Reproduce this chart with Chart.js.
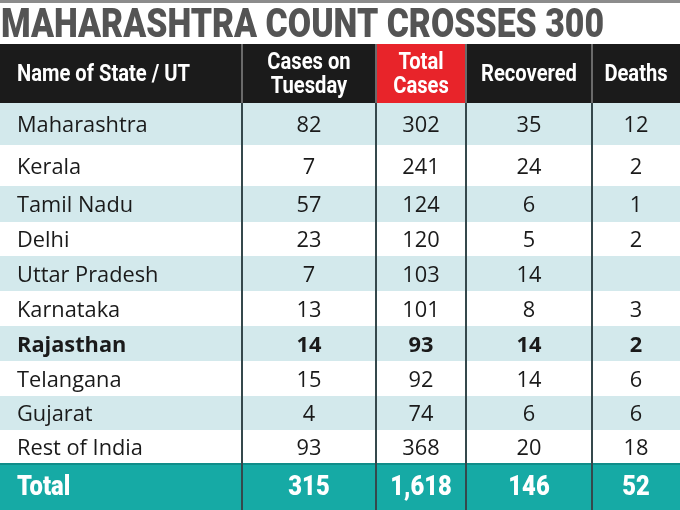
<!DOCTYPE html>
<html>
<head>
<meta charset="utf-8">
<script src="https://cdn.jsdelivr.net/npm/chart.js@4"></script>
<style>
  body { margin: 0; background: #fff; }
  #wrap { width: 680px; height: 510px; }
</style>
</head>
<body>
<div id="wrap"><canvas id="table"></canvas></div>
<script>
// table data
var title = 'MAHARASHTRA COUNT CROSSES 300';
var headers = [['Name of State / UT'], ['Cases on', 'Tuesday'], ['Total', 'Cases'], ['Recovered'], ['Deaths']];
var states = ['Maharashtra', 'Kerala', 'Tamil Nadu', 'Delhi', 'Uttar Pradesh', 'Karnataka',
  'Rajasthan', 'Telangana', 'Gujarat', 'Rest of India'];
var casesTuesday = [82, 7, 57, 23, 7, 13, 14, 15, 4, 93];
var totalCases = [302, 241, 124, 120, 103, 101, 93, 92, 74, 368];
var recovered = [35, 24, 6, 5, 14, 8, 14, 14, 6, 20];
var deaths = [12, 2, 1, 2, null, 3, 2, 6, 6, 18];
var totalRow = ['Total', '315', '1,618', '146', '52'];
var boldState = 'Rajasthan';

// layout (in scale units = pixels of the 680x510 picture)
var colEdges = [0, 242, 376, 466, 592, 680];
var headTop = 44;
var rowEdges = [103, 145, 186, 222, 256, 291, 326, 361, 396, 430, 464, 510];

var shade = '#d3e9ec';
var teal = '#16aaa5';

// draw text squeezed horizontally
function squeezed(ctx, text, x, y, sx, align) {
  ctx.save();
  ctx.translate(x, y);
  ctx.scale(sx, 1);
  ctx.textAlign = align;
  ctx.fillText(text, 0, 0);
  ctx.restore();
}

var tablePlugin = {
  id: 'tableCells',
  beforeDatasetsDraw: function(chart) {
    var ctx = chart.ctx;
    var xs = chart.scales.x, ys = chart.scales.y;
    var X = function(v) { return xs.getPixelForValue(v); };
    var Y = function(v) { return ys.getPixelForValue(v); };
    var left = X(colEdges[0]), right = X(colEdges[colEdges.length - 1]);

    // top strip + title
    ctx.fillStyle = '#8c8c8c';
    ctx.fillRect(left, Y(0), right - left, 3);
    ctx.fillStyle = '#545454';
    ctx.font = '900 41px Roboto';
    ctx.textBaseline = 'alphabetic';
    var tw = ctx.measureText(title).width;
    squeezed(ctx, title, X(1), Y(37), 603 / tw, 'left');

    // header
    ctx.fillStyle = '#1b1b1b';
    ctx.fillRect(left, Y(headTop), right - left, Y(rowEdges[0]) - Y(headTop));
    ctx.fillStyle = '#e8242a';
    ctx.fillRect(X(colEdges[2]), Y(headTop), X(colEdges[3]) - X(colEdges[2]), Y(rowEdges[0]) - Y(headTop));

    // body rows
    var n = states.length;
    for (var i = 0; i < n; i++) {
      ctx.fillStyle = i % 2 === 0 ? shade : '#ffffff';
      ctx.fillRect(left, Y(rowEdges[i]), right - left, Y(rowEdges[i + 1]) - Y(rowEdges[i]));
    }
    ctx.fillStyle = teal;
    ctx.fillRect(left, Y(rowEdges[n]), right - left, Y(rowEdges[n + 1]) - Y(rowEdges[n]));
    ctx.fillStyle = '#0f8d89';
    ctx.fillRect(left, Y(rowEdges[n]) - 1, right - left, 2);

    // vertical dividers
    for (var c = 1; c < colEdges.length - 1; c++) {
      ctx.fillStyle = '#6a6a6a';
      ctx.fillRect(X(colEdges[c]) - 1, Y(headTop), 2, Y(rowEdges[0]) - Y(headTop));
      ctx.fillStyle = '#35484c';
      ctx.fillRect(X(colEdges[c]) - 1, Y(rowEdges[0]), 2, Y(rowEdges[n + 1]) - Y(rowEdges[0]));
    }

    // header text
    ctx.fillStyle = '#ffffff';
    ctx.font = 'bold 24px Roboto';
    ctx.textBaseline = 'middle';
    var hMid = (headTop + rowEdges[0]) / 2 + 1;
    headers.forEach(function(lines, c) {
      var cx = c === 0 ? X(colEdges[0]) + 17 : X((colEdges[c] + colEdges[c + 1]) / 2);
      var align = c === 0 ? 'left' : 'center';
      lines.forEach(function(line, k) {
        var yy = lines.length === 1 ? hMid : hMid + (k - 0.5) * 24;
        squeezed(ctx, line, cx, Y(yy), 0.84, align);
      });
    });

    // body text
    var cols = [states, casesTuesday, totalCases, recovered, deaths];
    ctx.fillStyle = '#1a1a1a';
    for (var r = 0; r < n; r++) {
      var mid = Y((rowEdges[r] + rowEdges[r + 1]) / 2 + 2);
      var bold = states[r] === boldState;
      ctx.font = (bold ? 'bold ' : '') + '22px "Open Sans"';
      for (var c2 = 0; c2 < cols.length; c2++) {
        var v = cols[c2][r];
        if (v === null) continue;
        if (c2 === 0) squeezed(ctx, String(v), X(colEdges[0]) + 17, mid, 0.99, 'left');
        else squeezed(ctx, String(v), X((colEdges[c2] + colEdges[c2 + 1]) / 2), mid, 0.99, 'center');
      }
    }

    // total row
    ctx.fillStyle = '#ffffff';
    ctx.font = '900 27px Roboto';
    var tMid = Y((rowEdges[n] + rowEdges[n + 1]) / 2 + 1);
    totalRow.forEach(function(t, c) {
      if (c === 0) squeezed(ctx, t, X(colEdges[0]) + 17, tMid, 0.88, 'left');
      else squeezed(ctx, t, X((colEdges[c] + colEdges[c + 1]) / 2), tMid, 0.88, 'center');
    });
  }
};

new Chart(document.getElementById('table'), {
  type: 'scatter',
  data: { datasets: [{ data: [] }] },
  options: {
    responsive: true,
    maintainAspectRatio: false,
    animation: false,
    layout: { padding: 0 },
    plugins: { legend: { display: false }, tooltip: { enabled: false } },
    scales: {
      x: { type: 'linear', min: 0, max: 680, display: false },
      y: { type: 'linear', min: 0, max: 510, reverse: true, display: false }
    }
  },
  plugins: [tablePlugin]
});
</script>
</body>
</html>
